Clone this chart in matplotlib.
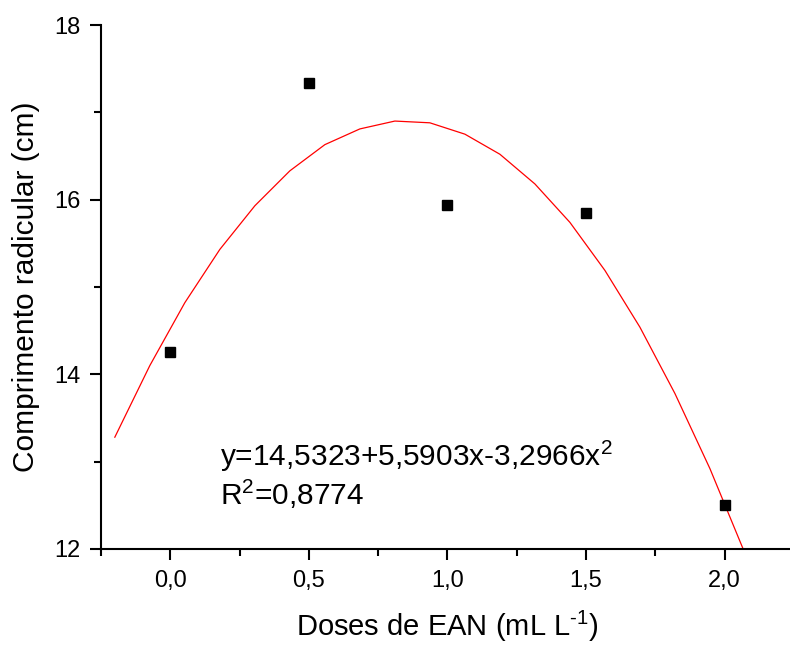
"""
Comprimento radicular vs doses de EAN, with quadratic fit
"""
import matplotlib
matplotlib.use("Agg")
import matplotlib.pyplot as plt
from matplotlib.ticker import MultipleLocator, FuncFormatter

plt.rcParams['font.family'] = ['Liberation Sans', 'DejaVu Sans']
plt.rcParams['mathtext.fontset'] = 'custom'
plt.rcParams['mathtext.rm'] = 'Liberation Sans'
plt.rcParams['mathtext.it'] = 'Liberation Sans'

# measured points
doses = [0.0, 0.5, 1.0, 1.5, 2.0]
comprimento = [14.26, 17.34, 15.94, 15.85, 12.50]

# fitted curve vertices (as drawn)
fit_x = [-0.2, -0.0737, 0.0526, 0.1789, 0.3053, 0.4316, 0.5579, 0.6842, 0.8105, 0.9368,
         1.0632, 1.1895, 1.3158, 1.4421, 1.5684, 1.6947, 1.8211, 1.9474, 2.0737, 2.2]
fit_y = [13.28, 14.10, 14.82, 15.43, 15.93, 16.33, 16.63, 16.81, 16.90, 16.88,
         16.75, 16.52, 16.18, 15.74, 15.19, 14.54, 13.78, 12.92, 11.95, 10.88]

eq_text = r'y=14,5323+5,5903x-3,2966x$^2$'
r2_text = r'R$^2$=0,8774'

fig = plt.figure(figsize=(7.9, 6.46), dpi=100)
ax = fig.add_axes([0.1278, 0.1502, 0.877, 0.8111])

ax.plot(fit_x, fit_y, '-', color='red', lw=0.9)
ax.plot(doses, comprimento, 's', color='black', ms=7.5, clip_on=False)

ax.set_xlim(-0.25, 2.25)
ax.set_ylim(12, 18)

for s in ['top', 'right']:
    ax.spines[s].set_visible(False)
for s in ['left', 'bottom']:
    ax.spines[s].set_linewidth(1.5)

ax.xaxis.set_major_locator(MultipleLocator(0.5))
ax.xaxis.set_minor_locator(MultipleLocator(0.25))
ax.yaxis.set_major_locator(MultipleLocator(2))
ax.yaxis.set_minor_locator(MultipleLocator(1))
ax.xaxis.set_major_formatter(FuncFormatter(lambda v, p: ('%.1f' % v).replace('.', ',')))
ax.yaxis.set_major_formatter(FuncFormatter(lambda v, p: '%d' % v))
ax.tick_params(which='major', direction='out', length=8, width=1.5, labelsize=17, pad=7)
ax.tick_params(which='minor', direction='out', length=5, width=1.5)

ax.set_xlabel(r'Doses de EAN (mL L$^{\text{-1}}$)', fontsize=21, labelpad=12)
ax.set_ylabel('Comprimento radicular (cm)', fontsize=21.5, labelpad=10)

ax.text(0.18, 12.95, eq_text, fontsize=21.5, va='baseline')
ax.text(0.18, 12.50, r2_text, fontsize=21.5, va='baseline')

fig.savefig('out.png', dpi=100)
